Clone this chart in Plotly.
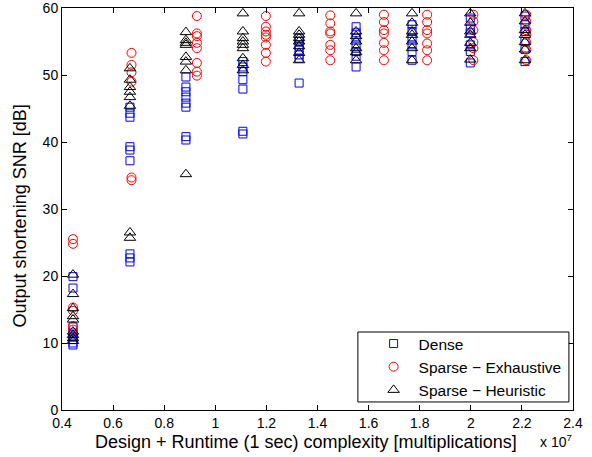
import plotly.graph_objects as go

# x positions (multiplications) and SNR values [dB] per column
dense_x = [4.43e6, 6.66e6, 8.85e6, 11.08e6, 13.28e6, 15.51e6, 17.70e6, 19.98e6, 22.12e6]
dense_snr = [
    [19.9, 18.2, 12.4, 11.5, 11.0, 10.5, 10.0, 9.7],
    [45.2, 44.3, 43.7, 39.3, 38.8, 37.2, 23.3, 22.7, 22.1],
    [49.7, 48.2, 47.5, 46.7, 45.8, 45.2, 40.8, 40.3],
    [52.0, 51.2, 50.5, 49.3, 47.9, 41.6, 41.2],
    [55.5, 55.0, 54.3, 53.7, 53.0, 52.5, 48.8],
    [57.2, 56.3, 55.5, 54.5, 53.5, 52.8, 51.2],
    [57.5, 56.5, 55.5, 54.5, 53.5, 52.2],
    [58.5, 57.0, 56.3, 54.5, 53.5, 51.8],
    [58.8, 57.5, 56.5, 55.0, 53.8, 52.0],
]

exh_x = [4.43e6, 6.72e6, 9.28e6, 11.98e6, 14.50e6, 16.60e6, 18.29e6, 20.10e6, 22.17e6]
exh_snr = [
    [25.5, 24.8, 15.3, 14.8, 12.5, 12.0],
    [53.3, 51.5, 50.4, 49.0, 34.7, 34.3],
    [58.8, 56.2, 55.8, 54.8, 54.0, 51.8, 50.5, 49.9],
    [58.8, 57.2, 56.5, 56.0, 55.6, 54.5, 53.3, 52.0],
    [58.9, 57.7, 56.5, 56.2, 54.5, 53.7, 52.2],
    [59.0, 57.9, 56.7, 56.2, 54.8, 53.7, 52.2],
    [59.0, 57.9, 56.7, 56.2, 54.7, 53.7, 52.2],
    [59.0, 58.0, 56.7, 54.9, 54.0, 52.2],
    [59.0, 58.0, 56.7, 56.0, 54.9, 53.8, 52.2],
]

heu_x = [4.43e6, 6.66e6, 8.85e6, 11.08e6, 13.28e6, 15.51e6, 17.70e6, 19.98e6, 22.12e6]
heu_snr = [
    [20.2, 17.3, 15.2, 14.0, 13.5, 11.7, 11.2, 10.7, 10.3],
    [51.0, 49.3, 48.2, 47.5, 46.7, 45.4, 26.5, 25.7],
    [56.4, 55.2, 54.8, 54.5, 52.7, 52.0, 50.7, 35.2],
    [59.2, 56.5, 55.5, 55.0, 54.5, 54.0, 52.5, 51.5, 50.7],
    [59.2, 56.5, 56.0, 55.5, 55.0, 54.3, 53.3, 52.2],
    [59.2, 56.5, 55.8, 55.0, 54.0, 53.4, 52.2],
    [59.2, 57.8, 56.5, 56.0, 55.0, 54.0, 52.2],
    [59.2, 57.8, 56.5, 56.0, 54.8, 54.0, 52.3],
    [59.2, 58.0, 56.7, 56.0, 54.9, 53.8, 52.2],
]

x_tickvals = [4e6, 6e6, 8e6, 10e6, 12e6, 14e6, 16e6, 18e6, 20e6, 22e6, 24e6]
x_ticktext = ["0.4", "0.6", "0.8", "1", "1.2", "1.4", "1.6", "1.8", "2", "2.2", "2.4"]
y_tickvals = [0, 10, 20, 30, 40, 50, 60]


def flatten(xs, ys):
    fx, fy = [], []
    for xv, col in zip(xs, ys):
        for v in col:
            fx.append(xv)
            fy.append(v)
    return fx, fy


FONT = "Liberation Sans, Arial, Helvetica, sans-serif"

fig = go.Figure()
series = [
    ("Dense", dense_x, dense_snr, "square-open", "#0000ff", 8),
    ("Sparse \u2212 Exhaustive", exh_x, exh_snr, "circle-open", "#ff0000", 9),
    ("Sparse \u2212 Heuristic", heu_x, heu_snr, "triangle-up-open", "#000000", 10),
]
for name, xs, ys, sym, col, sz in series:
    fx, fy = flatten(xs, ys)
    fig.add_trace(go.Scatter(
        x=fx, y=fy, mode="markers", name=name,
        marker=dict(symbol=sym, color=col, size=sz, line=dict(width=1, color=col)),
    ))

axis_common = dict(
    showgrid=False, zeroline=False, showline=True, linecolor="black", linewidth=1,
    mirror="ticks", ticks="inside", ticklen=5, tickcolor="black",
    tickfont=dict(family=FONT, size=14, color="black"), automargin=False,
    ticklabeloverflow="allow",
)

fig.update_layout(
    width=592, height=457,
    margin=dict(l=62, r=19, t=8, b=47),
    paper_bgcolor="white", plot_bgcolor="white",
    font=dict(family=FONT, color="black"),
    showlegend=True,
    legend=dict(
        x=0.60, y=0.107, xanchor="left", yanchor="middle",
        bgcolor="rgba(0,0,0,0)", borderwidth=0,
        font=dict(family=FONT, size=15.5, color="black"),
        itemsizing="trace", tracegroupgap=0, itemwidth=40,
    ),
    xaxis=dict(range=[4e6, 24e6], tickvals=x_tickvals, ticktext=x_ticktext, **axis_common),
    yaxis=dict(range=[0, 60], tickvals=y_tickvals, **axis_common),
    shapes=[dict(
        type="rect", xref="paper", yref="paper", x0=0.579, x1=0.992, y0=0.02, y1=0.194,
        line=dict(color="black", width=1), fillcolor="white", layer="above",
    )],
    annotations=[
        dict(text="Design + Runtime (1 sec) complexity [multiplications]",
             xref="paper", yref="paper", x=0.4775, y=-0.0796,
             xanchor="center", yanchor="middle", showarrow=False,
             font=dict(family=FONT, size=18, color="black")),
        dict(text="Output shortening SNR [dB]", textangle=-90,
             xref="paper", yref="paper", x=-0.0822, y=0.484,
             xanchor="center", yanchor="middle", showarrow=False,
             font=dict(family=FONT, size=18, color="black")),
        dict(text="x 10<sup>7</sup>", xref="paper", yref="paper", x=0.9315, y=-0.078,
             xanchor="left", yanchor="middle", showarrow=False,
             font=dict(family=FONT, size=14, color="black")),
    ],
)

fig.write_html("out.html", config={"displayModeBar": False},
               post_script="document.body.style.margin='0px';")
